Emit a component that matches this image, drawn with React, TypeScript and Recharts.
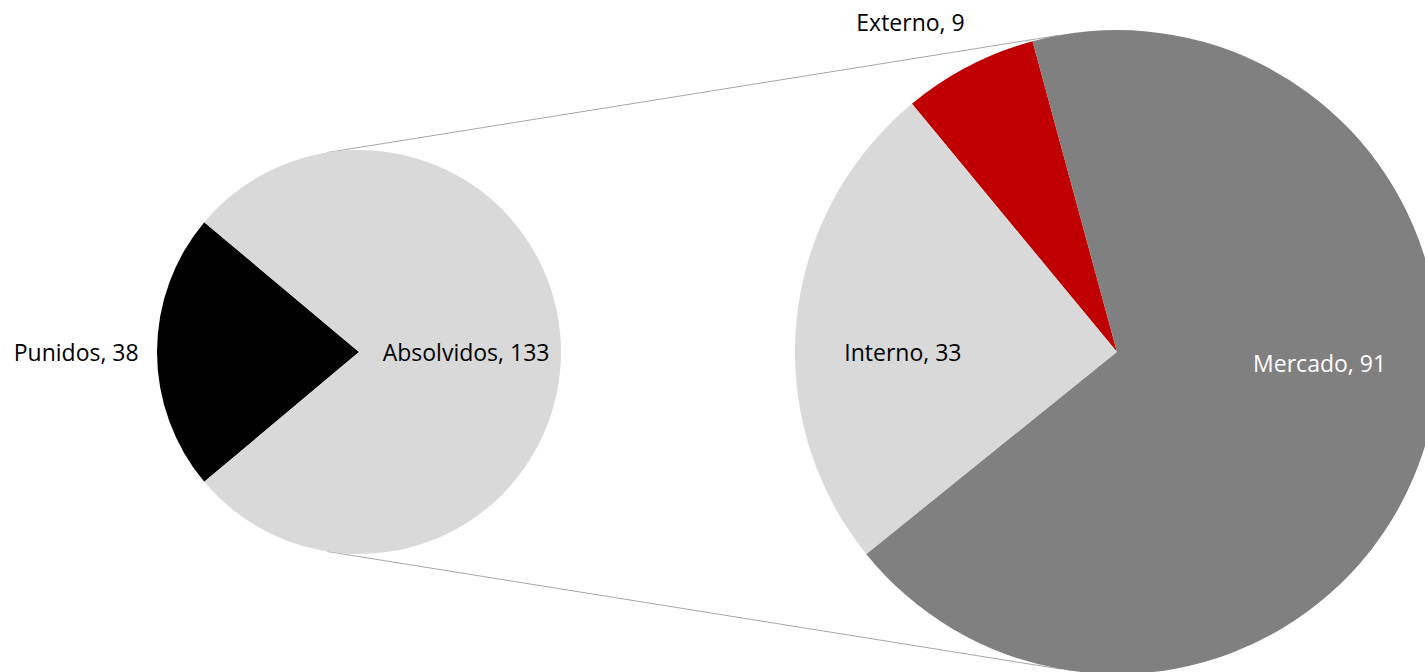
import { PieChart, Pie, Cell, Customized } from 'recharts';

// first pie: all cases
const mainNames = ['Punidos', 'Absolvidos'];
const mainValues = [38, 133];
const mainColors = ['#000000', '#d9d9d9'];

// second pie: breakdown of Absolvidos
const subNames = ['Externo', 'Interno', 'Mercado'];
const subValues = [9, 33, 91];
const subColors = ['#c00000', '#d9d9d9', '#808080'];

const W = 1425;
const H = 672;
const FONT = "'Open Sans', sans-serif";

const main = { cx: 359, cy: 352, r: 202 };
const sub = { cx: 1117, cy: 352, r: 322 };

// label placement: angle (deg) and distance as fraction of radius
const labelPlace: Record<string, { angle: number; dist: number; fill: string }> = {
  Punidos: { angle: 180, dist: 1.4, fill: '#000' },
  Absolvidos: { angle: 0, dist: 0.53, fill: '#000' },
  Externo: { angle: 122, dist: 1.21, fill: '#000' },
  Interno: { angle: 180, dist: 0.665, fill: '#000' },
  Mercado: { angle: -3, dist: 0.63, fill: '#fff' },
};

const mainData = mainNames.map((name, i) => ({ name, value: mainValues[i] }));
const subData = subNames.map((name, i) => ({ name, value: subValues[i] }));

const total = (v: number[]) => v.reduce((a, b) => a + b, 0);
const mainStart = 180 - (mainValues[0] / total(mainValues)) * 180;
const subStart = 105.2;

const RAD = Math.PI / 180;
const polar = (c: { cx: number; cy: number; r: number }, deg: number) => ({
  x: c.cx + c.r * Math.cos(deg * RAD),
  y: c.cy - c.r * Math.sin(deg * RAD),
});

function renderLabel(props: any) {
  const { cx, cy, outerRadius, name, value } = props;
  const p = labelPlace[name];
  const x = cx + outerRadius * p.dist * Math.cos(p.angle * RAD);
  const y = cy - outerRadius * p.dist * Math.sin(p.angle * RAD);
  return (
    <text
      x={x}
      y={y}
      textAnchor="middle"
      dominantBaseline="central"
      fill={p.fill}
      fontFamily={FONT}
      fontSize={23}
    >
      {`${name}, ${value}`}
    </text>
  );
}

function Connectors() {
  const a1 = polar(main, 99);
  const b1 = polar(sub, 100.5);
  const a2 = polar(main, 261);
  const b2 = polar(sub, 260);
  return (
    <g stroke="#a6a6a6" strokeWidth={1}>
      <line x1={a1.x} y1={a1.y} x2={b1.x} y2={b1.y} />
      <line x1={a2.x} y1={a2.y} x2={b2.x} y2={b2.y} />
    </g>
  );
}

export default function App() {
  return (
    <div style={{ position: 'absolute', left: 0, top: 0, width: W, height: H, background: '#fff' }}>
      <PieChart width={W} height={H} margin={{ top: 0, right: 0, bottom: 0, left: 0 }}>
        <Customized component={Connectors} />
        <Pie
          data={mainData}
          dataKey="value"
          nameKey="name"
          cx={main.cx}
          cy={main.cy}
          outerRadius={main.r}
          startAngle={mainStart}
          endAngle={mainStart + 360}
          stroke="none"
          label={renderLabel}
          labelLine={false}
          isAnimationActive={false}
        >
          {mainData.map((d, i) => (
            <Cell key={d.name} fill={mainColors[i]} />
          ))}
        </Pie>
        <Pie
          data={subData}
          dataKey="value"
          nameKey="name"
          cx={sub.cx}
          cy={sub.cy}
          outerRadius={sub.r}
          startAngle={subStart}
          endAngle={subStart + 360}
          stroke="none"
          label={renderLabel}
          labelLine={false}
          isAnimationActive={false}
        >
          {subData.map((d, i) => (
            <Cell key={d.name} fill={subColors[i]} />
          ))}
        </Pie>
      </PieChart>
    </div>
  );
}
